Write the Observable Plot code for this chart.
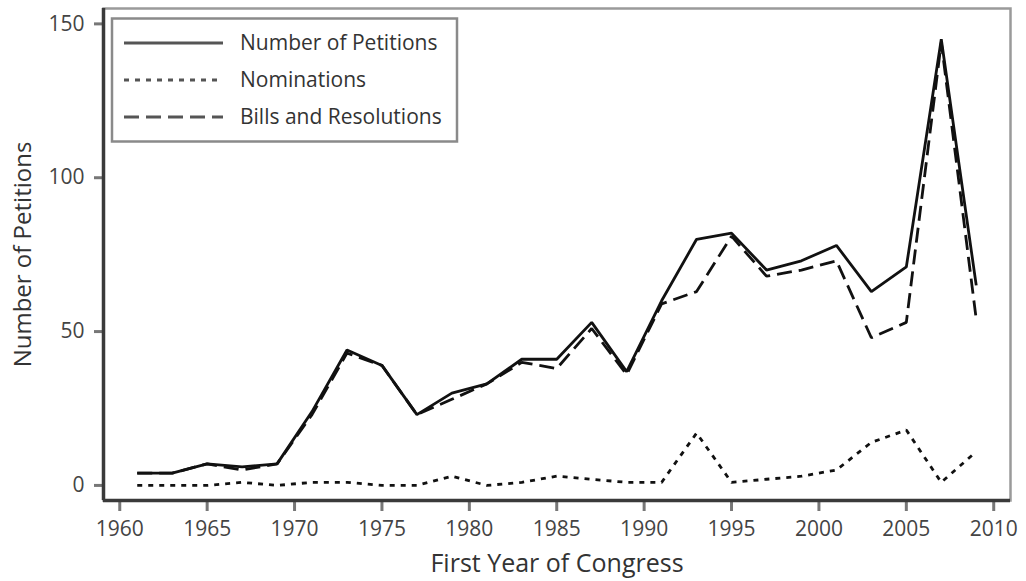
<!DOCTYPE html>
<html>
<head>
<meta charset="utf-8">
<script src="https://cdn.jsdelivr.net/npm/d3@7"></script>
<script src="https://cdn.jsdelivr.net/npm/@observablehq/plot@0.6"></script>
<style>
  html, body { margin: 0; padding: 0; background: #fff; }
  #chart svg { display: block; }
</style>
</head>
<body>
<div id="chart"></div>
<script>
// First year of each Congress
const years = [1961, 1963, 1965, 1967, 1969, 1971, 1973, 1975, 1977, 1979, 1981, 1983, 1985,
               1987, 1989, 1991, 1993, 1995, 1997, 1999, 2001, 2003, 2005, 2007, 2009];
// Number of petitions (total)
const totalPetitions = [4, 4, 7, 6, 7, 24, 44, 39, 23, 30, 33, 41, 41,
                        53, 37, 60, 80, 82, 70, 73, 78, 63, 71, 145, 65];
// Nominations
const nominations = [0, 0, 0, 1, 0, 1, 1, 0, 0, 3, 0, 1, 3,
                     2, 1, 1, 17, 1, 2, 3, 5, 14, 18, 1, 11];
// Bills and resolutions
const billsResolutions = [4, 4, 7, 5, 7, 23, 43, 39, 23, 28, 33, 40, 38,
                          51, 36, 59, 63, 81, 68, 70, 73, 48, 53, 144, 54];

const seriesNames = ["Number of Petitions", "Nominations", "Bills and Resolutions"];
const xTicks = [1960, 1965, 1970, 1975, 1980, 1985, 1990, 1995, 2000, 2005, 2010];
const yTicks = [0, 50, 100, 150];
const xTitle = "First Year of Congress";
const yTitle = "Number of Petitions";

const xDomain = [1959.07, 2010.96];
const yDomain = [-4.9, 155];

const dashes = { "Number of Petitions": null, "Nominations": "5,6", "Bills and Resolutions": "15,7" };
const valuesBySeries = [totalPetitions, nominations, billsResolutions];

const rows = [];
seriesNames.forEach((s, si) => {
  years.forEach((yr, i) => rows.push({ series: s, year: yr, value: valuesBySeries[si][i] }));
});

const FONT = "'Open Sans', 'Noto Sans', sans-serif";

const lineMarks = seriesNames.slice().reverse().map(s =>
  Plot.line(rows.filter(r => r.series === s), {
    x: "year", y: "value",
    stroke: "#111", strokeWidth: 2.8,
    strokeDasharray: dashes[s],
    strokeLinejoin: "miter", strokeLinecap: "butt"
  })
);

const plot = Plot.plot({
  width: 1026,
  height: 581,
  marginLeft: 103,
  marginRight: 16,
  marginTop: 8,
  marginBottom: 81,
  style: { fontFamily: FONT, fontSize: "21px", color: "#333", background: "#fff" },
  x: { domain: xDomain, label: null },
  y: { domain: yDomain, label: null },
  marks: [
    Plot.frame({ stroke: "#9a9a9a", strokeWidth: 2.5 }),
    Plot.axisX(xTicks, { tickSize: 11, tickPadding: 10, stroke: "#777", strokeWidth: 3,
                         tickFormat: d => String(d), fill: "#444", fontSize: 21, label: null }),
    Plot.axisY(yTicks, { tickSize: 9, tickPadding: 10, stroke: "#777", strokeWidth: 3,
                         fill: "#444", fontSize: 21, label: null }),
    ...lineMarks,
    Plot.ruleX([xDomain[0]], { stroke: "#3a3a3a", strokeWidth: 3.5 }),
    Plot.ruleY([yDomain[0]], { stroke: "#3a3a3a", strokeWidth: 3.5 }),
    Plot.text([xTitle], { frameAnchor: "bottom", dy: 63, fontSize: 25, fill: "#333",
                          lineAnchor: "middle", textAnchor: "middle" }),
    Plot.text([yTitle], { frameAnchor: "left", dx: -80, rotate: -90, fontSize: 24, fill: "#333",
                          lineAnchor: "middle", textAnchor: "middle" })
  ]
});

document.getElementById("chart").appendChild(plot);

// Legend (inside plot, top-left)
const svg = d3.select(plot);
const lg = svg.append("g").attr("font-family", FONT).attr("font-size", 21).attr("fill", "#333")
  .attr("text-anchor", "start");
lg.append("rect")
  .attr("x", 112).attr("y", 18.5).attr("width", 345).attr("height", 123)
  .attr("fill", "#fff").attr("stroke", "#8a8a8a").attr("stroke-width", 2.5);
const rowY = [43, 80, 117];
seriesNames.forEach((s, i) => {
  lg.append("line")
    .attr("x1", 124).attr("x2", 223).attr("y1", rowY[i]).attr("y2", rowY[i])
    .attr("stroke", "#555").attr("stroke-width", 3)
    .attr("stroke-dasharray", i === 1 ? "5,6" : (i === 2 ? "15,7" : null));
  lg.append("text")
    .attr("x", 240).attr("y", rowY[i]).attr("dy", "0.35em")
    .attr("text-anchor", "start")
    .text(s);
});
</script>
</body>
</html>
